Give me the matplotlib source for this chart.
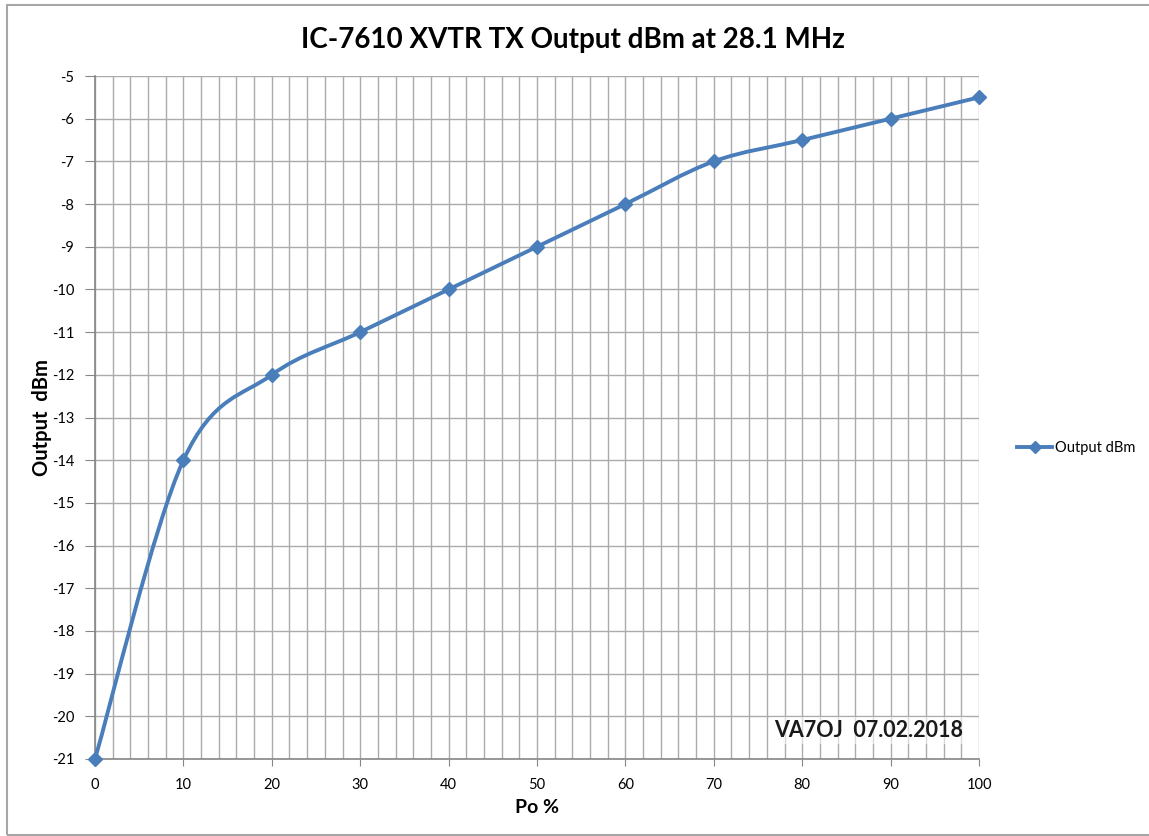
import numpy as np
import matplotlib.pyplot as plt
from matplotlib.path import Path
from matplotlib.patches import PathPatch, Rectangle
from matplotlib.lines import Line2D

plt.rcParams['font.family'] = ['Lato', 'DejaVu Sans']
plt.rcParams['axes.unicode_minus'] = False

# data
po_pct = [0, 10, 20, 30, 40, 50, 60, 70, 80, 90, 100]
output_dbm = [-21, -14, -12, -11, -10, -9, -8, -7, -6.5, -6, -5.5]
x_ticks = list(range(0, 101, 10))
y_ticks = list(range(-21, -4))

line_col = '#4a7ebb'
grid_col = '#ababab'
axis_col = '#868686'


def smooth_path(xs, ys):
    # excel style smoothed line -> cubic bezier segments
    pts = np.column_stack([xs, ys]).astype(float)
    n = len(pts)
    verts = [pts[0]]
    codes = [Path.MOVETO]
    for i in range(n - 1):
        p0 = pts[i - 1] if i > 0 else pts[i]
        p1 = pts[i]
        p2 = pts[i + 1]
        p3 = pts[i + 2] if i + 2 < n else pts[i + 1]
        c1 = p1 + (p2 - p0) / 6.0
        c2 = p2 - (p3 - p1) / 6.0
        verts += [c1, c2, p2]
        codes += [Path.CURVE4] * 3
    return Path(verts, codes)


fig = plt.figure(figsize=(11.49, 8.36), dpi=100)
ax = fig.add_axes([95 / 1149, 1 - 759 / 836, (979 - 95) / 1149, (759 - 76) / 836])

# outer chart frame
fig.patches.append(Rectangle((7 / 1149, 1 / 836), 1.2, 1 - 6 / 836, transform=fig.transFigure,
                             fill=False, edgecolor='#a6a6a6', lw=1.5, zorder=0))

ax.set_xlim(0, 100)
ax.set_ylim(-21, -5)
ax.set_xticks(x_ticks)
ax.set_xticks(np.arange(0, 101, 2), minor=True)
ax.set_yticks(y_ticks)
ax.grid(which='both', axis='x', color=grid_col, lw=1.0)
ax.grid(which='major', axis='y', color=grid_col, lw=1.0)
ax.tick_params(axis='x', which='minor', length=0)
ax.tick_params(axis='x', which='major', length=5, color=axis_col, labelsize=10.5, pad=9)
ax.tick_params(axis='y', which='major', length=7, color=axis_col, labelsize=10.5, pad=8)
for s in ['top', 'right']:
    ax.spines[s].set_visible(False)
for s in ['left', 'bottom']:
    ax.spines[s].set_color(axis_col)
    ax.spines[s].set_linewidth(1.2)

ax.add_patch(PathPatch(smooth_path(po_pct, output_dbm), fill=False, edgecolor=line_col,
                       lw=2.8, capstyle='round', joinstyle='round', zorder=3))
ax.plot(po_pct, output_dbm, ls='none', marker='D', ms=7, color=line_col, zorder=4, clip_on=False)

ax.set_title('IC-7610 XVTR TX Output dBm at 28.1 MHz', fontsize=20, fontweight='bold', pad=20,
             x=0.541)
ax.set_xlabel('Po %', fontsize=14, fontweight='bold', labelpad=5)
ax.set_ylabel('Output  dBm', fontsize=14.5, fontweight='bold', labelpad=0)

ax.text(0.875, 0.042, 'VA7OJ  07.02.2018', transform=ax.transAxes, ha='center', va='center',
        fontsize=15.5, fontweight='bold', color='#1a1a1a', zorder=5,
        bbox=dict(facecolor='white', edgecolor='none', alpha=0.55, pad=2))

handle = Line2D([], [], color=line_col, lw=2.8, marker='D', ms=6)
ax.legend([handle], ['Output dBm'], loc='center left', bbox_to_anchor=(1.043, 0.455),
          frameon=False, fontsize=10.5, handlelength=2.4, handletextpad=0.2,
          borderpad=0, borderaxespad=0)

fig.savefig('out.png', dpi=100)
